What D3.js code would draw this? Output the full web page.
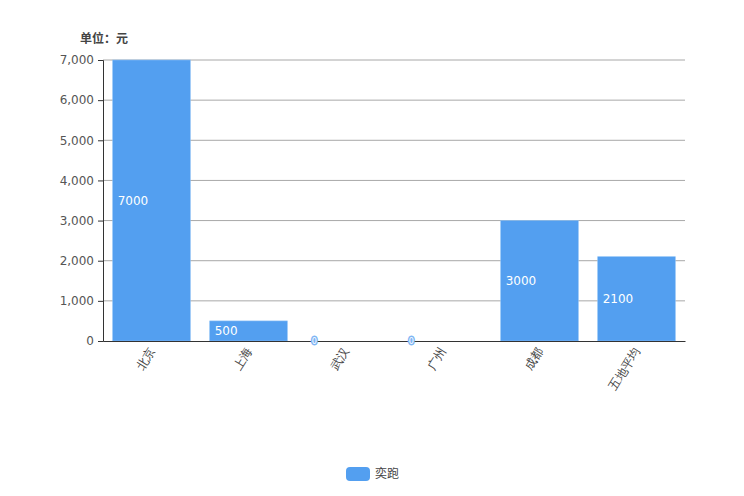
<!DOCTYPE html>
<html><head><meta charset="utf-8">
<script src="https://cdn.jsdelivr.net/npm/d3@7/dist/d3.min.js"></script>
<style>body{margin:0;background:#fff;}svg{display:block;font-family:"Noto Sans CJK SC","DejaVu Sans",sans-serif;}</style>
</head><body>
<svg id="c" width="744" height="496"></svg>
<script>
const categories = ["北京","上海","武汉","广州","成都","五地平均"];
const values = [7000, 500, 0, 0, 3000, 2100];
const yTicks = [0,1000,2000,3000,4000,5000,6000,7000];
const seriesName = "奕跑";
const unitLabel = "单位：元";

const svg = d3.select("#c");
const m = {left:103, right:685, top:60, bottom:341};
const x = d3.scaleBand().domain(categories).range([m.left, m.right]).paddingInner(0.2).paddingOuter(0.1);
const xb = d3.scaleBand().domain(categories).range([m.left, m.right]);
const y = d3.scaleLinear().domain([0,7000]).range([m.bottom, m.top]);
const color = "#539ff0";

// gridlines
svg.append("g").selectAll("line").data(yTicks.filter(d=>d>0)).join("line")
  .attr("x1", m.left).attr("x2", m.right)
  .attr("y1", d=>y(d)).attr("y2", d=>y(d))
  .attr("stroke", "#a8a8a8").attr("stroke-width", 1);

// y axis
const ya = svg.append("g").attr("transform", `translate(${m.left},0)`)
  .call(d3.axisLeft(y).tickValues(yTicks).tickFormat(d3.format(",")).tickSize(5).tickPadding(4));
ya.select(".domain").attr("stroke", "#333");
ya.selectAll(".tick line").attr("stroke", "#333");
ya.selectAll("text").attr("fill", "#555").attr("font-size", 12).attr("font-family", "DejaVu Sans, sans-serif");

// bars
svg.append("g").selectAll("rect").data(values).join("rect")
  .attr("x", (d,i)=>x(categories[i]))
  .attr("y", d=>y(d))
  .attr("width", x.bandwidth())
  .attr("height", d=>m.bottom - y(d))
  .attr("fill", color)
  .attr("stroke", "#8cc0f6").attr("stroke-width", d=>d>0?0.6:0);

// x axis
const xa = svg.append("g").attr("transform", `translate(0,${m.bottom})`)
  .call(d3.axisBottom(xb).tickSize(0).tickPadding(8));
xa.select(".domain").attr("stroke", "#333");
xa.selectAll("text").attr("fill", "#444").attr("font-size", 12)
  .attr("text-anchor", "end")
  .attr("transform", "translate(-6,3) rotate(-58)")
  .attr("dy", "0.35em");

// data labels
const lbl = svg.append("g").selectAll("text").data(values).join("text")
  .attr("x", (d,i)=>x(categories[i]) + 5)
  .attr("y", d=>(y(d)+m.bottom)/2)
  .attr("dy", "0.35em")
  .attr("font-size", 12)
  .attr("font-family", "DejaVu Sans, sans-serif")
  .text(d=>d);
lbl.filter(d=>d>0).attr("fill", "#fff");
lbl.filter(d=>d===0)
  .attr("font-size", 8)
  .attr("fill", "#fff")
  .attr("stroke", "#7fb6f4").attr("stroke-width", 3).attr("paint-order", "stroke")
  .attr("stroke-linejoin", "round");

// unit label
svg.append("text").attr("x", 80).attr("y", 43).attr("font-size", 12)
  .attr("font-weight", "bold").attr("fill", "#444").text(unitLabel);

// legend
const lg = svg.append("g");
lg.append("rect").attr("x", 346).attr("y", 467).attr("width", 24).attr("height", 14).attr("rx", 4).attr("fill", color);
lg.append("text").attr("x", 375).attr("y", 474).attr("dy", "0.35em").attr("font-size", 12).attr("fill", "#444").text(seriesName);
</script>
</body></html>
